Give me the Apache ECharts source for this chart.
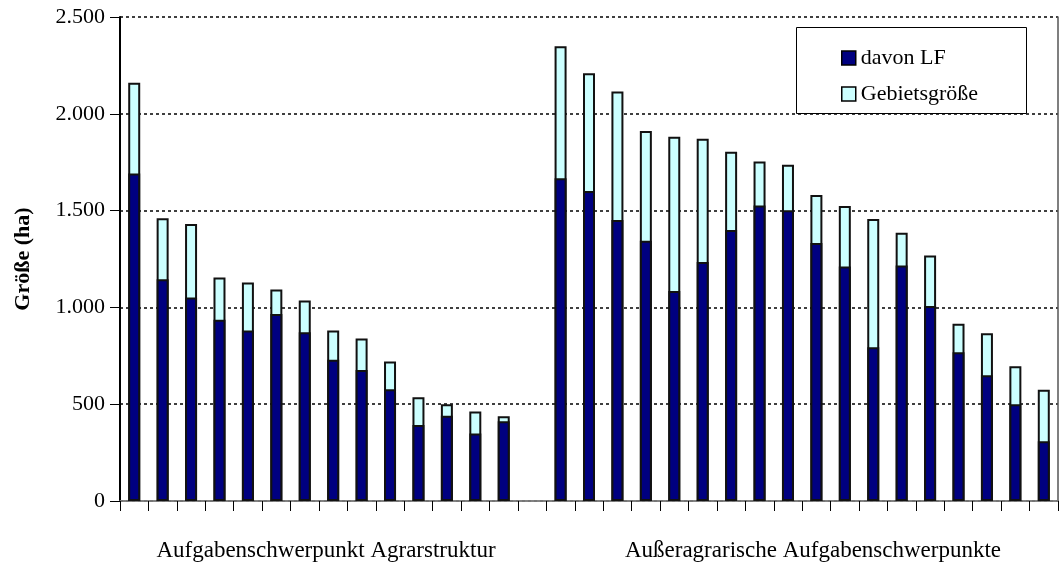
<!DOCTYPE html>
<html>
<head>
<meta charset="utf-8">
<script src="https://cdn.jsdelivr.net/npm/echarts@6/dist/echarts.min.js"></script>
<style>
html,body{margin:0;padding:0;background:#fff;}
#c{width:1060px;height:564px;}
</style>
</head>
<body>
<div id="c"></div>
<script>
// Categories: 14 districts (Agrarstruktur), one empty gap, 18 districts (außeragrarisch)
const categories = [
  'A1','A2','A3','A4','A5','A6','A7','A8','A9','A10','A11','A12','A13','A14',
  '',
  'B1','B2','B3','B4','B5','B6','B7','B8','B9','B10','B11','B12','B13','B14','B15','B16','B17','B18'
];
// davon LF (ha)
const lfValues = [
  1691,1146,1051,936,881,966,871,730,677,577,392,440,349,412,
  null,
  1667,1601,1452,1344,1085,1234,1400,1526,1502,1332,1211,794,1217,1007,768,649,500,309
];
// Gebietsgröße (ha)
const areaValues = [
  2160,1461,1431,1155,1129,1093,1036,881,840,720,536,500,462,438,
  null,
  2349,2210,2115,1911,1882,1871,1804,1754,1737,1581,1524,1457,1385,1268,916,866,696,574
];
const seriesNames = ['davon LF','Gebietsgröße'];
const groupLabels = ['Aufgabenschwerpunkt Agrarstruktur','Außeragrarische Aufgabenschwerpunkte'];
const yTicks = [0, 500, 1000, 1500, 2000, 2500];

const FONT = '"Liberation Serif","DejaVu Serif",serif';
function fmt(v){
  if (v >= 1000) return Math.floor(v/1000) + '.' + String(v%1000).padStart(3,'0');
  return String(v);
}

const chart = echarts.init(document.getElementById('c'), null, {renderer:'canvas'});
chart.setOption({
  animation:false,
  backgroundColor:'#fff',
  grid:{left:120, right:2, top:17, bottom:63},
  xAxis:[{
    type:'category',
    data:categories,
    boundaryGap:true,
    axisLine:{lineStyle:{color:'#000', width:1.5}},
    axisTick:{show:true, interval:0, length:10, lineStyle:{color:'#000'}},
    axisLabel:{show:false},
    splitLine:{show:false}
  },{
    type:'category',
    data:categories,
    position:'top',
    axisLine:{lineStyle:{color:'#999', width:1.5}},
    axisTick:{show:false},
    axisLabel:{show:false}
  }],
  yAxis:[{
    type:'value',
    min:yTicks[0], max:yTicks[yTicks.length-1], interval:500,
    name:'Größe (ha)',
    nameLocation:'middle',
    nameGap:86,
    nameTextStyle:{fontFamily:FONT, fontSize:22, fontWeight:'bold', color:'#000'},
    axisLine:{show:true, lineStyle:{color:'#000', width:2}},
    axisTick:{show:true, length:10, lineStyle:{color:'#000'}},
    axisLabel:{fontFamily:FONT, fontSize:22, color:'#000', margin:15, formatter:fmt},
    splitLine:{show:true, lineStyle:{color:'#000', type:[3,3], width:1.5}}
  },{
    type:'value',
    position:'right',
    min:yTicks[0], max:yTicks[yTicks.length-1], interval:500,
    axisLine:{show:true, lineStyle:{color:'#555', width:1.5}},
    axisTick:{show:false},
    axisLabel:{show:false},
    splitLine:{show:false}
  }],
  legend:{
    data:seriesNames,
    orient:'vertical',
    left:841, top:46,
    padding:0,
    icon:'rect',
    itemWidth:14, itemHeight:14,
    itemGap:12,
    z:10,
    itemStyle:{borderColor:'#000', borderWidth:1.5},
    textStyle:{fontFamily:FONT, fontSize:22, color:'#000', lineHeight:24}
  },
  graphic:[
    {type:'rect', z:5, shape:{x:796.5, y:27.5, width:230, height:86},
      style:{fill:'#fff', stroke:'#000', lineWidth:1}},
    {type:'text', z:5, x:326, y:551,
      style:{text:groupLabels[0], font:'23px ' + FONT, fill:'#000', align:'center', verticalAlign:'middle'}},
    {type:'text', z:5, x:813, y:551,
      style:{text:groupLabels[1], font:'23px ' + FONT, fill:'#000', align:'center', verticalAlign:'middle'}}
  ],
  series:[{
    name:seriesNames[1],
    type:'bar',
    data:areaValues,
    barWidth:12,
    barGap:'-100%',
    itemStyle:{color:'#CCFFFF', borderColor:'#111', borderWidth:2}
  },{
    name:seriesNames[0],
    type:'bar',
    data:lfValues,
    barWidth:12,
    barGap:'-100%',
    z:3,
    itemStyle:{color:'#000080', borderColor:'#111', borderWidth:2}
  }]
});
</script>
</body>
</html>
